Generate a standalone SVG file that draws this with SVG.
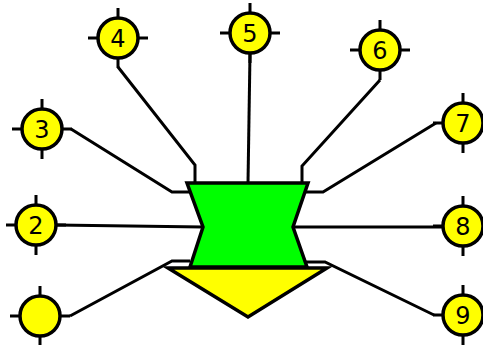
<svg xmlns="http://www.w3.org/2000/svg" width="483" height="345" viewBox="0 0 483 345">
<style>
.c{fill:#ffff00;stroke:#000;stroke-width:3.5}
.t{stroke:#000;stroke-width:3;fill:none}
.l{font-family:"DejaVu Sans",sans-serif;font-size:24px;fill:#000;text-anchor:middle}
.w{stroke:#000;stroke-width:3;fill:none;stroke-linejoin:miter}
</style>
<defs>
<g id="port">
<path class="t" d="M0,-30V-19M0,19V30M-30,0H-19M19,0H30"/>
<circle class="c" r="20"/>
</g>
</defs>
<g id="connectors">
<polyline class="w" points="71,129 172,192 190,192"/>
<polyline class="w" points="56,225 203,227"/>
<polyline class="w" points="70,316 172,261 190,261"/>
<polyline class="w" points="118,67 195,165 195,183"/>
<polyline class="w" points="250,53 248,183"/>
<polyline class="w" points="380,80 302,166 302,183"/>
<polyline class="w" points="436,123 323,192 306,192"/>
<polyline class="w" points="444,227 293,227"/>
<polyline class="w" points="434,315 325,262 305,262"/>
</g>
<g id="body">
<polygon points="168,268 327,268 248,317" fill="#ffff00" stroke="#000" stroke-width="3.5" stroke-linejoin="miter"/>
<polygon points="187,183 308,183 293,227 307,267 190,267 203,227" fill="#00ff00" stroke="#000" stroke-width="3.5"/>
</g>
<g id="n1"><use href="#port" x="40" y="316"/></g>
<g id="n2"><use href="#port" x="36" y="225"/><text class="l" x="36" y="234">2</text></g>
<g id="n3"><use href="#port" x="42" y="129"/><text class="l" x="42" y="138">3</text></g>
<g id="n4"><use href="#port" x="118" y="38"/><text class="l" x="118" y="47">4</text></g>
<g id="n5"><use href="#port" x="250" y="33"/><text class="l" x="250" y="42">5</text></g>
<g id="n6"><use href="#port" x="380" y="50"/><text class="l" x="380" y="59">6</text></g>
<g id="n7"><use href="#port" x="463" y="123"/><text class="l" x="463" y="132">7</text></g>
<g id="n8"><use href="#port" x="463" y="226"/><text class="l" x="463" y="235">8</text></g>
<g id="n9"><use href="#port" x="463" y="315"/><text class="l" x="463" y="324">9</text></g>
</svg>
